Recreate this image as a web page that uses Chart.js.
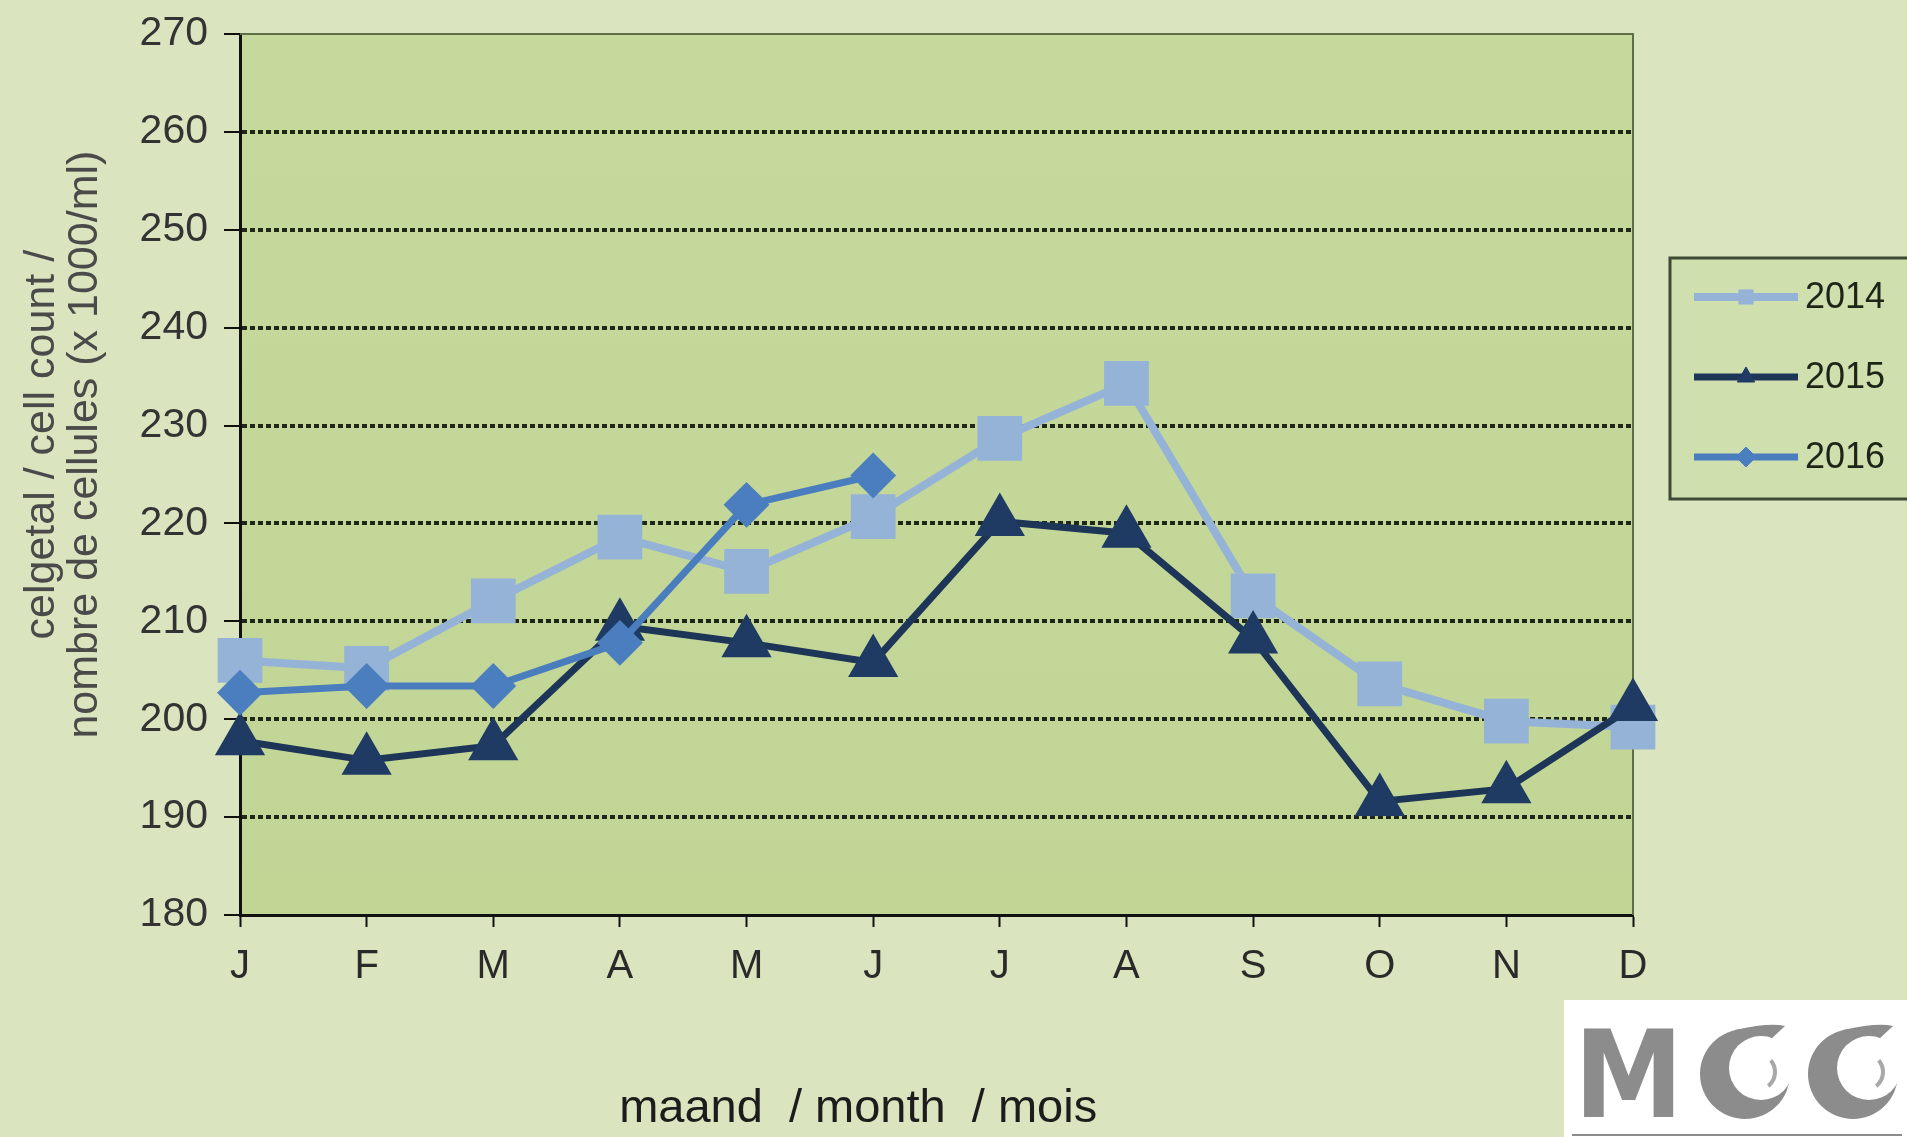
<!DOCTYPE html>
<html>
<head>
<meta charset="utf-8">
<script src="https://cdn.jsdelivr.net/npm/chart.js@4/dist/chart.umd.min.js"></script>
<style>
  html, body { margin: 0; padding: 0; background: #dae5bf; }
  #wrap { width: 1907px; height: 1137px; }
</style>
</head>
<body>
<div id="wrap"><canvas id="cellChart" width="1907" height="1137"></canvas></div>
<script>
// months (J F M A M J J A S O N D)
const months = ["J", "F", "M", "A", "M", "J", "J", "A", "S", "O", "N", "D"];
const years = ["2014", "2015", "2016"];

// cell count x1000/ml
const counts2014 = [206.0, 205.2, 212.1, 218.6, 215.1, 220.7, 228.7, 234.3, 212.6, 203.6, 199.8, 199.2];
const counts2015 = [197.8, 195.8, 197.3, 209.5, 207.8, 205.8, 220.2, 219.0, 208.2, 191.6, 192.9, 201.3];
const counts2016 = [202.7, 203.4, 203.4, 207.8, 221.9, 224.9, null, null, null, null, null, null];

const yTicks = [180, 190, 200, 210, 220, 230, 240, 250, 260, 270];

const FONT = "'Liberation Sans', Arial, sans-serif";
const pad = n => "\u00a0".repeat(n);

// plot background + top/right frame
const plotArea = {
  id: "plotArea",
  beforeDraw(chart) {
    const { ctx, chartArea: a } = chart;
    ctx.save();
    const g = ctx.createLinearGradient(0, a.top, 0, a.bottom);
    g.addColorStop(0, "#c6d99d");
    g.addColorStop(1, "#c1d595");
    ctx.fillStyle = g;
    ctx.fillRect(a.left, a.top, a.right - a.left, a.bottom - a.top);
    ctx.restore();
  },
  beforeDatasetsDraw(chart) {
    const { ctx, chartArea: a } = chart;
    ctx.save();
    ctx.strokeStyle = "#5d6d48";
    ctx.lineWidth = 2;
    ctx.beginPath();
    ctx.moveTo(a.left, a.top);
    ctx.lineTo(a.right, a.top);
    ctx.lineTo(a.right, a.bottom);
    ctx.stroke();
    ctx.restore();
  }
};

// boxed legend on the right, line + marker like the original
const boxLegend = {
  id: "boxLegend",
  afterDraw(chart) {
    const ctx = chart.ctx;
    ctx.save();
    ctx.fillStyle = "#d0dfae";
    ctx.fillRect(1670, 258, 260, 241);
    ctx.strokeStyle = "#3f4a35";
    ctx.lineWidth = 3;
    ctx.strokeRect(1670, 258, 260, 241);

    const sets = chart.data.datasets.slice().sort((p, q) => p.label.localeCompare(q.label));
    sets.forEach((ds, i) => {
      const y = 297 + i * 80;
      ctx.strokeStyle = ds.borderColor;
      ctx.lineWidth = ds.borderWidth;
      ctx.beginPath();
      ctx.moveTo(1694, y);
      ctx.lineTo(1798, y);
      ctx.stroke();
      ctx.fillStyle = ds.pointBackgroundColor;
      ctx.strokeStyle = ds.pointBackgroundColor;
      ctx.lineWidth = 1;
      Chart.helpers.drawPoint(ctx, { pointStyle: ds.pointStyle, radius: 10, rotation: 0, borderWidth: 1 }, 1746, y);
      ctx.fillStyle = "#1e2418";
      ctx.font = "36px " + FONT;
      ctx.textBaseline = "middle";
      ctx.fillText(ds.label, 1805, y + 1);
    });
    ctx.restore();
  }
};

// MCC logo corner
const logo = {
  id: "logo",
  afterDraw(chart) {
    const ctx = chart.ctx;
    ctx.save();
    ctx.fillStyle = "#ffffff";
    ctx.fillRect(1564, 1000, 343, 137);
    ctx.fillStyle = "#8c8c8c";
    ctx.font = "bold 122px 'DejaVu Sans', sans-serif";
    ctx.textBaseline = "alphabetic";
    ctx.save();
    ctx.translate(1574, 1117);
    ctx.scale(0.9, 1);
    ctx.fillText("M", 0, 0);
    ctx.restore();
    [1745, 1853].forEach(cx => {
      const cy = 1074;
      ctx.fillStyle = "#8c8c8c";
      ctx.beginPath();
      ctx.arc(cx, cy, 45, 0, Math.PI * 2);
      ctx.fill();
      // tail towards the top right
      ctx.beginPath();
      ctx.moveTo(cx - 10, cy - 44);
      ctx.quadraticCurveTo(cx + 25, cy - 52, cx + 40, cy - 48);
      ctx.lineTo(cx + 10, cy - 20);
      ctx.fill();
      ctx.fillStyle = "#ffffff";
      ctx.beginPath();
      ctx.arc(cx + 16, cy - 6, 32, 0, Math.PI * 2);
      ctx.fill();
      ctx.strokeStyle = "#a8a8a8";
      ctx.lineWidth = 4;
      ctx.beginPath();
      ctx.arc(cx + 12, cy - 2, 18, -0.7, 0.9);
      ctx.stroke();
    });
    ctx.fillStyle = "#8c8c8c";
    ctx.fillRect(1572, 1134, 330, 2);
    ctx.restore();
  }
};

const ctx = document.getElementById("cellChart").getContext("2d");

new Chart(ctx, {
  type: "line",
  data: {
    labels: months,
    datasets: [
      {
        label: years[0],
        data: counts2014,
        borderColor: "#95b3d7",
        pointBackgroundColor: "#95b3d7",
        pointBorderColor: "#95b3d7",
        borderWidth: 8,
        pointStyle: "rect",
        pointRadius: 26,
        order: 2
      },
      {
        label: years[1],
        data: counts2015,
        borderColor: "#1d3557",
        pointBackgroundColor: "#1f3a63",
        pointBorderColor: "#1f3a63",
        borderWidth: 7,
        pointStyle: "triangle",
        pointRadius: 22,
        order: 1
      },
      {
        label: years[2],
        data: counts2016,
        borderColor: "#4a7dbd",
        pointBackgroundColor: "#4a7ebf",
        pointBorderColor: "#4a7ebf",
        borderWidth: 7,
        pointStyle: "rectRot",
        pointRadius: 18,
        order: 0
      }
    ]
  },
  options: {
    responsive: false,
    devicePixelRatio: 1,
    animation: false,
    spanGaps: false,
    layout: { padding: { top: 30, right: 274, left: 0, bottom: 0 } },
    elements: {
      line: { tension: 0 },
      point: { borderWidth: 1, hoverRadius: 22 }
    },
    datasets: { line: { clip: false } },
    plugins: {
      legend: { display: false },
      tooltip: { enabled: false }
    },
    scales: {
      x: {
        type: "category",
        offset: false,
        ticks: {
          font: { size: 40, family: FONT },
          color: "#2a2a2a",
          padding: 16,
          maxRotation: 0,
          autoSkip: false
        },
        grid: {
          drawOnChartArea: false,
          tickLength: 12,
          tickColor: "#111",
          tickWidth: 2
        },
        border: { color: "#111", width: 3 },
        title: {
          display: true,
          text: "maand  / month  / mois" + pad(12),
          font: { size: 47, family: FONT },
          color: "#1c1c1c",
          padding: { top: 0, bottom: 0 }
        },
        afterFit(scale) { scale.height = 222; }
      },
      y: {
        min: yTicks[0],
        max: yTicks[yTicks.length - 1],
        afterBuildTicks(scale) { scale.ticks = yTicks.map(v => ({ value: v })); },
        ticks: {
          font: { size: 41, family: FONT },
          color: "#333",
          padding: 16
        },
        grid: {
          color: c => (c.tick && (c.tick.value === 270 || c.tick.value === 180)) ? "rgba(0,0,0,0)" : "#1f2717",
          lineWidth: 4,
          tickColor: "#111",
          tickWidth: 2,
          tickLength: 16,
          tickBorderDash: []
        },
        border: { color: "#111", width: 3, dash: [5, 3] },
        title: {
          display: true,
          text: [pad(5) + "celgetal / cell count /", pad(5) + "nombre de cellules (x 1000/ml)"],
          font: { size: 43, family: FONT, lineHeight: 1.0 },
          color: "#4a4a4a",
          padding: { top: 21, bottom: 0 }
        },
        afterFit(scale) {
          scale.width = 240;
          scale.paddingTop = 0;
          scale.paddingBottom = 0;
        }
      }
    }
  },
  plugins: [plotArea, boxLegend, logo]
});
</script>
</body>
</html>
